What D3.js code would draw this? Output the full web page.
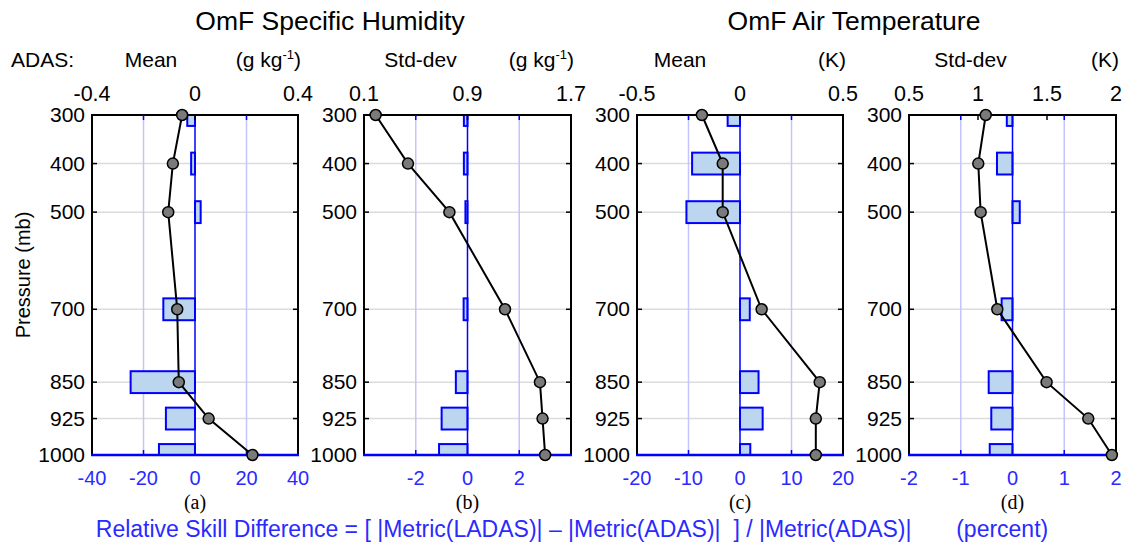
<!DOCTYPE html>
<html>
<head>
<meta charset="utf-8">
<script src="https://cdn.jsdelivr.net/npm/d3@7"></script>
<style>
  body { margin: 0; background: #fff; }
  text { font-family: "Liberation Sans", Arial, Helvetica, sans-serif; }
  .serif { font-family: "Liberation Serif", "Times New Roman", serif; }
</style>
</head>
<body>
<svg id="chart" width="1127" height="551"></svg>
<script>
// ------- Data -------
const levels = [300, 400, 500, 700, 850, 925, 1000];

// OmF values for ADAS (black line, top axis)
const qMean = [-0.05, -0.086, -0.104, -0.069, -0.063, 0.053, 0.223];
const qStd  = [0.19, 0.44, 0.76, 1.19, 1.46, 1.48, 1.50];
const tMean = [-0.185, -0.084, -0.084, 0.105, 0.387, 0.368, 0.368];
const tStd  = [1.056, 1.002, 1.019, 1.14, 1.497, 1.799, 1.97];

// Relative skill difference, percent (blue bars, bottom axis)
const qMeanRsd = [-3, -1.5, 2.2, -12.3, -25, -11.3, -14];
const qStdRsd  = [-0.14, -0.14, -0.08, -0.15, -0.45, -1.0, -1.1];
const tMeanRsd = [-2.4, -9.3, -10.4, 1.9, 3.6, 4.4, 2.0];
const tStdRsd  = [-0.11, -0.30, 0.14, -0.21, -0.46, -0.41, -0.44];

const topTicksQMean = [-0.4, 0, 0.4];
const topTicksQStd  = [0.1, 0.9, 1.7];
const topTicksTMean = [-0.5, 0, 0.5];
const topTicksTStd  = [0.5, 1, 1.5, 2];

const botTicksQMean = [-40, -20, 0, 20, 40];
const botTicksQStd  = [-2, 0, 2];
const botTicksTMean = [-20, -10, 0, 10, 20];
const botTicksTStd  = [-2, -1, 0, 1, 2];

const panels = [
    {left: 92,  right: 298,  stat: 'Mean',    unit: 'g', statDx: -44, top: [-0.4, 0.4], topTicks: topTicksQMean, bot: [-40, 40], botTicks: botTicksQMean, omf: qMean, rsd: qMeanRsd, tag: '(a)'},
    {left: 364, right: 571,  stat: 'Std-dev', unit: 'g', statDx: -47, top: [0.1, 1.7],  topTicks: topTicksQStd,  bot: [-4, 4],   botTicks: botTicksQStd,  omf: qStd,  rsd: qStdRsd,  tag: '(b)'},
    {left: 637, right: 843,  stat: 'Mean',    unit: 'K', statDx: -60, top: [-0.5, 0.5], topTicks: topTicksTMean, bot: [-20, 20], botTicks: botTicksTMean, omf: tMean, rsd: tMeanRsd, tag: '(c)'},
    {left: 909, right: 1116, stat: 'Std-dev', unit: 'K', statDx: -42, top: [0.5, 2],    topTicks: topTicksTStd,  bot: [-2, 2],   botTicks: botTicksTStd,  omf: tStd,  rsd: tStdRsd,  tag: '(d)'}
];

const blue = '#0000ff';
const svg = d3.select('#chart');
const plotTop = 115, plotBottom = 455;

const y = d3.scaleLinear().domain([300, 1000]).range([plotTop, plotBottom]);

// ------- Titles -------
svg.append('text').attr('x', 330).attr('y', 30).attr('text-anchor', 'middle')
    .attr('font-size', 26.5).text('OmF Specific Humidity');
svg.append('text').attr('x', 854).attr('y', 30).attr('text-anchor', 'middle')
    .attr('font-size', 26.5).text('OmF Air Temperature');
svg.append('text').attr('x', 11).attr('y', 67).attr('font-size', 21).text('ADAS:');

svg.append('text')
    .attr('transform', `translate(30, ${(plotTop + plotBottom) / 2 - 10}) rotate(-90)`)
    .attr('text-anchor', 'middle').attr('font-size', 20).text('Pressure (mb)');

// ------- Panels -------
panels.forEach((p, i) => {
    const xTop = d3.scaleLinear().domain(p.top).range([p.left, p.right]);
    const xBot = d3.scaleLinear().domain(p.bot).range([p.left, p.right]);
    const g = svg.append('g').attr('class', 'panel');
    const mid = (p.left + p.right) / 2;

    // header text
    g.append('text').attr('x', mid + p.statDx).attr('y', 67).attr('text-anchor', 'middle')
        .attr('font-size', 21).text(p.stat);
    const u = g.append('text').attr('x', p.right + 3).attr('y', 67).attr('text-anchor', 'end')
        .attr('font-size', 21);
    if (p.unit === 'g') {
        u.append('tspan').text('(g kg');
        u.append('tspan').attr('font-size', 13).attr('dy', -8).text('-1');
        u.append('tspan').attr('dy', 8).text(')');
    } else {
        u.text('(K)');
    }

    const clipId = 'clip' + i;
    svg.append('clipPath').attr('id', clipId).append('rect')
        .attr('x', p.left).attr('y', plotTop).attr('width', p.right - p.left).attr('height', plotBottom - plotTop);

    // horizontal grid
    g.append('g').selectAll('line').data(levels.slice(1, -1)).join('line')
        .attr('x1', p.left).attr('x2', p.right).attr('y1', y).attr('y2', y)
        .attr('stroke', '#dcdcdc').attr('stroke-width', 1.5);

    // vertical blue grid at half range
    const grid = [p.bot[0] / 2, p.bot[1] / 2];
    g.append('g').selectAll('line').data(grid).join('line')
        .attr('x1', xBot).attr('x2', xBot).attr('y1', plotTop).attr('y2', plotBottom)
        .attr('stroke', '#c4c4ff').attr('stroke-width', 1.5);

    // bars
    const barH = y(345) - y(300);
    g.append('g').attr('clip-path', `url(#${clipId})`).selectAll('rect')
        .data(levels.map((lev, k) => ({lev, v: p.rsd[k]}))).join('rect')
        .attr('x', d => xBot(Math.min(0, d.v)))
        .attr('width', d => Math.abs(xBot(d.v) - xBot(0)))
        .attr('y', d => y(d.lev) - barH / 2)
        .attr('height', barH)
        .attr('fill', '#bcd6f0').attr('stroke', blue).attr('stroke-width', 2);

    // zero line
    g.append('line').attr('x1', xBot(0)).attr('x2', xBot(0)).attr('y1', plotTop).attr('y2', plotBottom)
        .attr('stroke', blue).attr('stroke-width', 1.5);

    // box: black top/left/right, blue bottom
    g.append('path')
        .attr('d', `M${p.left},${plotBottom}V${plotTop}H${p.right}V${plotBottom}`)
        .attr('fill', 'none').attr('stroke', '#000').attr('stroke-width', 2);
    g.append('line').attr('x1', p.left - 1).attr('x2', p.right + 1).attr('y1', plotBottom).attr('y2', plotBottom)
        .attr('stroke', blue).attr('stroke-width', 2.5);

    // left/right black ticks at each level
    const inner = levels.slice(1, -1);
    g.append('g').selectAll('line').data(inner).join('line')
        .attr('x1', p.left).attr('x2', p.left + 5).attr('y1', y).attr('y2', y)
        .attr('stroke', '#000').attr('stroke-width', 1.5);
    g.append('g').selectAll('line').data(inner).join('line')
        .attr('x1', p.right - 5).attr('x2', p.right).attr('y1', y).attr('y2', y)
        .attr('stroke', '#000').attr('stroke-width', 1.5);

    // top ticks (black) and blue ticks at grid
    g.append('g').selectAll('line').data(p.topTicks.slice(1, -1)).join('line')
        .attr('x1', xTop).attr('x2', xTop).attr('y1', plotTop).attr('y2', plotTop + 5)
        .attr('stroke', '#000').attr('stroke-width', 1.5);
    const innerBot = p.botTicks.filter(t => t !== 0 && t > p.bot[0] && t < p.bot[1]);
    g.append('g').selectAll('line').data(innerBot).join('line')
        .attr('x1', xBot).attr('x2', xBot).attr('y1', plotTop).attr('y2', plotTop + 5)
        .attr('stroke', blue).attr('stroke-width', 1.5);
    g.append('g').selectAll('line').data(innerBot).join('line')
        .attr('x1', xBot).attr('x2', xBot).attr('y1', plotBottom - 5).attr('y2', plotBottom)
        .attr('stroke', blue).attr('stroke-width', 1.5);

    // top tick labels
    g.append('g').selectAll('text').data(p.topTicks).join('text')
        .attr('x', xTop).attr('y', 101).attr('text-anchor', 'middle').attr('font-size', 21.5)
        .text(d => d);

    // bottom tick labels (blue)
    g.append('g').selectAll('text').data(p.botTicks).join('text')
        .attr('x', xBot).attr('y', 485).attr('text-anchor', 'middle').attr('font-size', 20)
        .attr('fill', '#2a2aff').text(d => d);

    // y tick labels
    g.append('g').selectAll('text').data(levels).join('text')
        .attr('x', p.left - 7).attr('y', d => y(d) + 7).attr('text-anchor', 'end').attr('font-size', 21)
        .text(d => d);

    // panel tag
    g.append('text').attr('class', 'serif').attr('x', mid).attr('y', 509).attr('text-anchor', 'middle')
        .attr('font-size', 20).text(p.tag);

    // OmF line and markers
    const pts = levels.map((lev, k) => [xTop(p.omf[k]), y(lev)]);
    g.append('path').attr('d', d3.line()(pts)).attr('fill', 'none')
        .attr('stroke', '#000').attr('stroke-width', 2);
    g.append('g').selectAll('circle').data(pts).join('circle')
        .attr('cx', d => d[0]).attr('cy', d => d[1]).attr('r', 5.5)
        .attr('fill', '#7a7a7a').attr('stroke', '#000').attr('stroke-width', 1.5);
});

// ------- Bottom label -------
svg.append('text').attr('x', 572).attr('y', 537).attr('text-anchor', 'middle')
    .attr('font-size', 23).attr('fill', '#2a2aff')
    .attr('xml:space', 'preserve')
    .text('Relative Skill Difference = [ |Metric(LADAS)| \u2013 |Metric(ADAS)|  ] / |Metric(ADAS)|       (percent)');
</script>
</body>
</html>
